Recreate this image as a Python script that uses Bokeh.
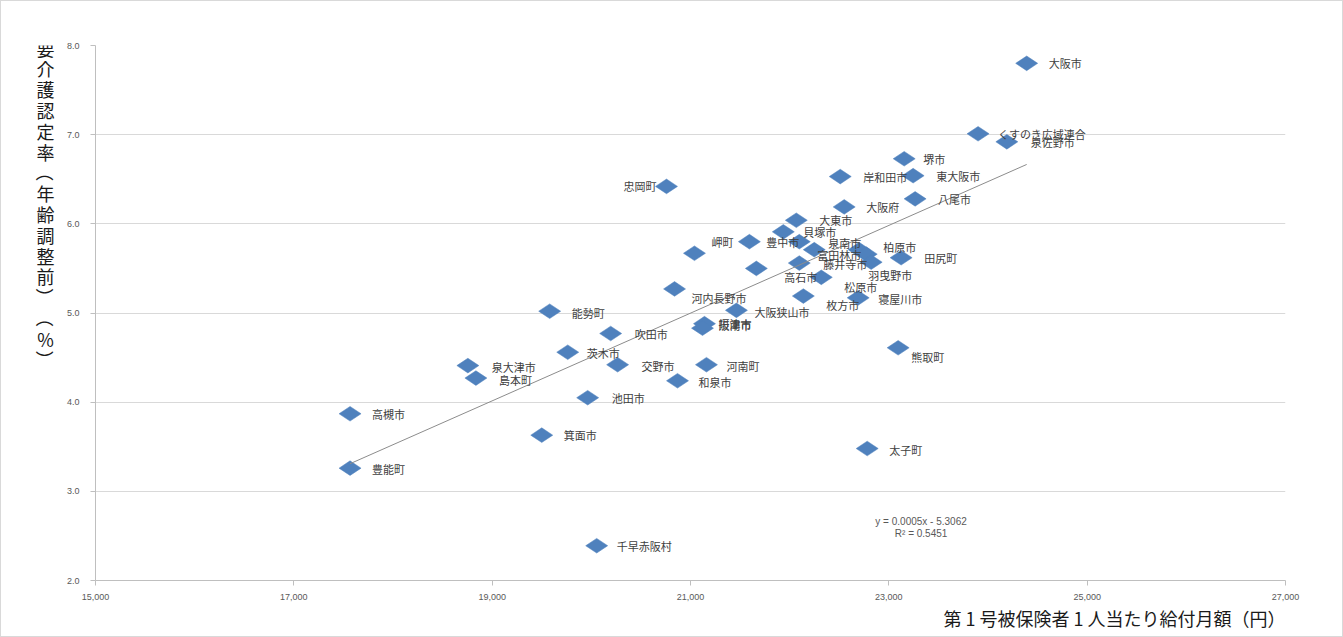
import numpy as np
from bokeh.plotting import figure
from bokeh.layouts import row
from bokeh.models import ColumnDataSource, FixedTicker, NumeralTickFormatter, Label, Range1d, Title
from bokeh.core.properties import value
from bokeh.embed import file_html
from bokeh.resources import INLINE

# ---- data ----
names = ["大阪市", "くすのき広域連合", "泉佐野市", "堺市", "岸和田市", "東大阪市", "八尾市", "大阪府",
         "忠岡町", "大東市", "貝塚市", "岬町", "豊中市", "泉南市", "富田林市", "柏原市", "羽曳野市",
         "田尻町", "", "高石市", "藤井寺市", "松原市", "河内長野市", "枚方市", "寝屋川市",
         "大阪狭山市", "摂津市", "阪南市", "吹田市", "能勢町", "茨木市", "泉大津市", "島本町",
         "交野市", "河南町", "和泉市", "池田市", "高槻市", "箕面市", "豊能町", "太子町",
         "千早赤阪村", "熊取町"]
benefit = [24390, 23900, 24190, 23155, 22510, 23245, 23265, 22550,
           20758, 22067, 21936, 21594, 22097, 22248, 22701, 22772, 22822,
           23124, 21040, 21664, 22097, 22319, 20839, 22138, 22691,
           21463, 21141, 21121, 20195, 19580, 19762, 18755, 18836,
           20265, 21161, 20869, 19963, 17567, 19500, 17567, 22782,
           20054, 23094]
rate = [7.80, 7.01, 6.92, 6.73, 6.53, 6.54, 6.28, 6.19,
        6.42, 6.04, 5.91, 5.80, 5.80, 5.71, 5.71, 5.66, 5.57,
        5.62, 5.67, 5.50, 5.56, 5.40, 5.27, 5.19, 5.17,
        5.03, 4.88, 4.83, 4.77, 5.02, 4.56, 4.41, 4.27,
        4.42, 4.42, 4.24, 4.05, 3.87, 3.63, 3.26, 3.48,
        2.39, 4.61]
x_ticks = [15000, 17000, 19000, 21000, 23000, 25000, 27000]
y_ticks = [2, 3, 4, 5, 6, 7, 8]
y_title = "要介護認定率（年齢調整前）（%）"
x_title = "第 1 号被保険者 1 人当たり給付月額（円）"
equation = ["y = 0.0005x - 5.3062", "R² = 0.5451"]

# ---- label placement (screen px offsets, layout only) ----
label_dx = [22, 20, 24, 19, 23, 23, 23, 22,
            -10, 23, 20, -16, 0, 14, 2, 17, -3,
            23, 0, 28, 24, 23, 17, 23, 20,
            18, 14, 16, 24, 22, 19, 24, 23,
            24, 20, 21, 24, 22, 22, 22, 22,
            20, 13]
label_dy = [0, 0, 0, 0, 0, 0, 0, 0,
            0, 0, 0, 0, 0, -7, 5, -7, 13,
            0, 0, 9, 1, 10, 9, 9, 1,
            2, 0, -3, 0, 2, 1, 1, 2,
            1, 1, 1, 0, 0, 0, 1, 1,
            0, 9]
right_aligned = {"忠岡町", "岬町", "豊中市", "富田林市"}

H = 635
LW = 62                      # width of the strip holding the vertical y title
MW = 1341 - LW               # main figure width
FL, FR, FT, FB = 92 - LW, 1284 - LW, 44, 579

# ---- left strip: upright vertical title (its frame is row-aligned to FT..FB) ----
t = figure(width=LW, height=H, output_backend="svg", toolbar_location=None,
           x_range=Range1d(0, LW), y_range=Range1d(FB, FT),
           x_axis_type=None, y_axis_type=None, min_border=0)
t.outline_line_color = None
t.xgrid.visible = False
t.ygrid.visible = False
chars = list(y_title)
# brackets are turned a quarter turn so they read as vertical-writing brackets
angles = [-np.pi / 2 if c in "（）" else 0.0 for c in chars]
t.text(x=[44] * len(chars), y=[46 + i * 20.8 for i in range(len(chars))], text=chars,
       angle=angles, text_align="center", text_baseline="middle",
       text_font=value("Noto Sans CJK JP"), text_font_size="18px", text_color="#1a1a1a")

# ---- main scatter ----
p = figure(width=MW, height=H, output_backend="svg", toolbar_location=None,
           x_range=Range1d(15000, 27000), y_range=Range1d(2, 8),
           min_border_left=FL, min_border_right=MW - FR, min_border_top=FT, min_border_bottom=H - FB)
p.outline_line_color = None
p.background_fill_color = "white"
p.border_fill_color = "white"

p.xgrid.grid_line_color = None
p.ygrid.grid_line_color = "#d9d9d9"
p.ygrid.grid_line_width = 1
p.xaxis.ticker = FixedTicker(ticks=x_ticks)
p.yaxis.ticker = FixedTicker(ticks=y_ticks)
p.xaxis.formatter = NumeralTickFormatter(format="0,0")
p.yaxis.formatter = NumeralTickFormatter(format="0.0")
for ax in (p.xaxis[0], p.yaxis[0]):
    ax.axis_line_color = "#bfbfbf"
    ax.major_tick_line_color = "#bfbfbf"
    ax.major_tick_out = 5
    ax.major_tick_in = 0
    ax.minor_tick_line_color = None
    ax.major_label_text_font = "Liberation Sans"
    ax.major_label_text_font_size = "9px"
    ax.major_label_text_color = "#595959"
p.yaxis.major_label_standoff = 11
p.xaxis.major_label_standoff = 8

src = ColumnDataSource(dict(x=benefit, y=rate))
p.scatter("x", "y", source=src, marker="diamond", angle=np.pi / 2, size=22,
          fill_color="#4F81BD", line_color="#4F81BD", line_width=0.5)

# trendline (least squares through the data)
coef = np.polyfit(benefit, rate, 1)
xs = np.array([min(benefit), max(benefit)])
p.line(xs, np.polyval(coef, xs), line_color="#8c8c8c", line_width=1)

# point labels
for align in ("left", "right"):
    idx = [i for i, n in enumerate(names) if n and ((n in right_aligned) == (align == "right"))]
    s = ColumnDataSource(dict(x=[benefit[i] for i in idx], y=[rate[i] for i in idx],
                              t=[names[i] for i in idx], dx=[label_dx[i] for i in idx],
                              dy=[label_dy[i] for i in idx]))
    p.text("x", "y", text="t", source=s, x_offset="dx", y_offset="dy",
           text_align=align, text_baseline="middle",
           text_font=value("Noto Sans CJK JP"), text_font_size="11px", text_color="#404040")

# regression equation
for k, line in enumerate(equation):
    p.add_layout(Label(x=23325, y=2.66 - k * 0.135, text=line, text_align="center",
                       text_baseline="middle", text_font="Liberation Sans",
                       text_font_size="10px", text_color="#595959"))

p.add_layout(Title(text=x_title, align="right", text_font="Noto Sans CJK JP",
                   text_font_size="18px", text_font_style="normal", text_color="#1a1a1a",
                   standoff=1), "below")

lay = row(t, p, spacing=0)
lay.styles = {"border": "1px solid #d9d9d9", "background-color": "white"}

open("out.html", "w").write(file_html(lay, INLINE))
